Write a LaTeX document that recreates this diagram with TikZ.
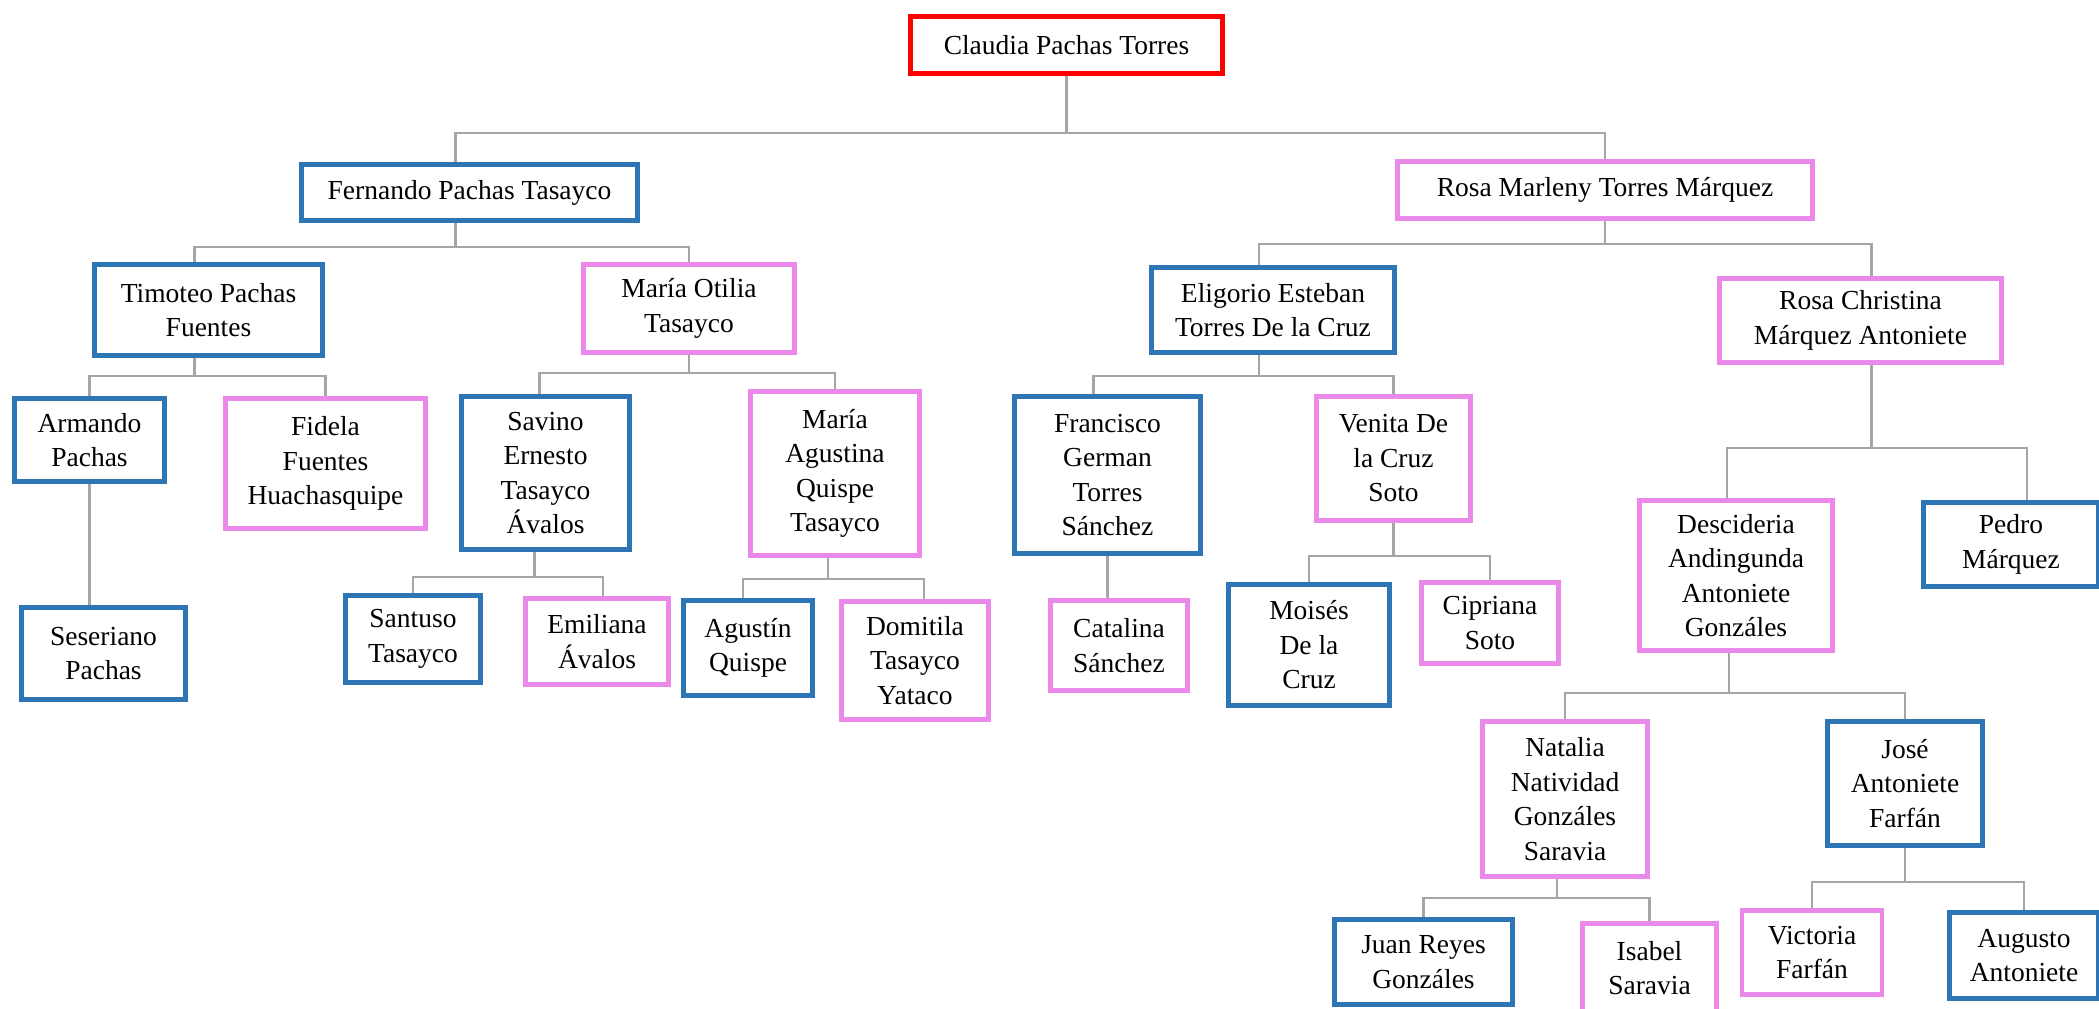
\documentclass[tikz,border=0pt]{standalone}
\usepackage{fontspec}
\setmainfont{Liberation Serif}
\usepackage{tikz}
\usetikzlibrary{backgrounds}
\definecolor{azul}{RGB}{46,117,182}
\definecolor{rosado}{RGB}{234,137,234}
\definecolor{gris}{RGB}{166,166,166}

\begin{document}
\begin{tikzpicture}[x=1pt,y=-1pt,
  caja/.style={draw,line width=4.6pt,inner sep=0pt,align=center,
    font=\fontsize{27.5}{34.5}\selectfont},
  raiz/.style={caja,draw=red},
  varon/.style={caja,draw=azul},
  mujer/.style={caja,draw=rosado},
  linea/.style={draw=gris,line width=2.4pt}]
  \useasboundingbox (0,0) rectangle (2099,1009);

  \node[raiz,minimum width=312,minimum height=57] (claudia) at (1066.5,45) {Claudia Pachas Torres};

  \node[varon,minimum width=336,minimum height=56] (fernando) at (469.5,192.5) {Fernando Pachas Tasayco};
  \node[mujer,minimum width=415,minimum height=57] (rosam) at (1605,190) {Rosa Marleny Torres Márquez};

  \node[varon,minimum width=228,minimum height=91] (timoteo) at (208.5,310) {Timoteo Pachas\\Fuentes};
  \node[mujer,minimum width=211,minimum height=88] (otilia) at (689,308.5) {María Otilia\\Tasayco};
  \node[varon,minimum width=243,minimum height=85] (eligorio) at (1273,310) {Eligorio Esteban\\Torres De la Cruz};
  \node[mujer,minimum width=282,minimum height=84] (rosac) at (1860.5,320.5) {Rosa Christina\\Márquez Antoniete};

  \node[varon,minimum width=150,minimum height=83] (armando) at (89.5,440) {Armando\\Pachas};
  \node[mujer,minimum width=200,minimum height=130] (fidela) at (325.5,463.5) {Fidela\\Fuentes\\Huachasquipe};
  \node[varon,minimum width=164,minimum height=92] (seseriano) at (103.5,653.5) {Seseriano\\Pachas};
  \node[varon,minimum width=168,minimum height=153] (savino) at (545.5,473) {Savino\\Ernesto\\Tasayco\\Ávalos};
  \node[mujer,minimum width=169,minimum height=164] (agustina) at (835,473.5) {María\\Agustina\\Quispe\\Tasayco};
  \node[varon,minimum width=135,minimum height=87] (santuso) at (413,639) {Santuso\\Tasayco};
  \node[mujer,minimum width=143,minimum height=86] (emiliana) at (597,641.5) {Emiliana\\Ávalos};
  \node[varon,minimum width=129,minimum height=95] (agustin) at (748,648) {Agustín\\Quispe};
  \node[mujer,minimum width=147,minimum height=118] (domitila) at (915,660.5) {Domitila\\Tasayco\\Yataco};

  \node[varon,minimum width=186,minimum height=157] (francisco) at (1107.5,475) {Francisco\\German\\Torres\\Sánchez};
  \node[mujer,minimum width=154,minimum height=124] (venita) at (1393.5,458.5) {Venita De\\la Cruz\\Soto};
  \node[mujer,minimum width=137,minimum height=90] (catalina) at (1119,645.5) {Catalina\\Sánchez};
  \node[varon,minimum width=161,minimum height=121] (moises) at (1309,645) {Moisés\\De la\\Cruz};
  \node[mujer,minimum width=137,minimum height=81] (cipriana) at (1490,623) {Cipriana\\Soto};

  \node[mujer,minimum width=193,minimum height=150] (desciderio) at (1736,575.5) {Descideria\\Andingunda\\Antoniete\\Gonzáles};
  \node[varon,minimum width=175,minimum height=84] (pedro) at (2011,544.5) {Pedro\\Márquez};
  \node[mujer,minimum width=165,minimum height=155] (natalia) at (1565,799) {Natalia\\Natividad\\Gonzáles\\Saravia};
  \node[varon,minimum width=155,minimum height=124] (jose) at (1905,783.5) {José\\Antoniete\\Farfán};
  \node[varon,minimum width=178,minimum height=85] (juan) at (1423.5,962) {Juan Reyes\\Gonzáles};
  \node[mujer,minimum width=134,minimum height=89] (isabel) at (1649.5,968) {Isabel\\Saravia};
  \node[mujer,minimum width=140,minimum height=84] (victoria) at (1812,952.5) {Victoria\\Farfán};
  \node[varon,minimum width=149,minimum height=86] (augusto) at (2024,955.5) {Augusto\\Antoniete};

  \begin{scope}[on background layer]
    \fill[white] (0,0) rectangle (2099,1009);
    \draw[linea] (claudia.south) -- ++(0,57) -| ([xshift=-14]fernando.north);
    \draw[linea] (claudia.south) ++(0,57) -| (rosam.north);
    \draw[linea] ([xshift=-14]fernando.south) -- ++(0,24) -| ([xshift=-14]timoteo.north);
    \draw[linea] ([xshift=-14]fernando.south) ++(0,24) -| (otilia.north);
    \draw[linea] (rosam.south) -- ++(0,23) -| ([xshift=-14]eligorio.north);
    \draw[linea] (rosam.south) ++(0,23) -| ([xshift=11]rosac.north);
    \draw[linea] ([xshift=-14]timoteo.south) -- ++(0,18) -| (armando.north);
    \draw[linea] ([xshift=-14]timoteo.south) ++(0,18) -| (fidela.north);
    \draw[linea] (armando.south) -- (armando.south |- seseriano.north);
    \draw[linea] (otilia.south) -- ++(0,18) -| ([xshift=-6]savino.north);
    \draw[linea] (otilia.south) ++(0,18) -| (agustina.north);
    \draw[linea] ([xshift=-11]savino.south) -- ++(0,25) -| (santuso.north);
    \draw[linea] ([xshift=-11]savino.south) ++(0,25) -| ([xshift=6]emiliana.north);
    \draw[linea] ([xshift=-7]agustina.south) -- ++(0,21) -| ([xshift=-5]agustin.north);
    \draw[linea] ([xshift=-7]agustina.south) ++(0,21) -| ([xshift=9]domitila.north);
    \draw[linea] ([xshift=-14]eligorio.south) -- ++(0,21) -| ([xshift=-14]francisco.north);
    \draw[linea] ([xshift=-14]eligorio.south) ++(0,21) -| (venita.north);
    \draw[linea] (francisco.south) -- (francisco.south |- catalina.north);
    \draw[linea] (venita.south) -- ++(0,33) -| (moises.north);
    \draw[linea] (venita.south) ++(0,33) -| (cipriana.north);
    \draw[linea] ([xshift=11]rosac.south) -- ++(0,83) -| ([xshift=-9]desciderio.north);
    \draw[linea] ([xshift=11]rosac.south) ++(0,83) -| ([xshift=16]pedro.north);
    \draw[linea] ([xshift=-7]desciderio.south) -- ++(0,40) -| (natalia.north);
    \draw[linea] ([xshift=-7]desciderio.south) ++(0,40) -| (jose.north);
    \draw[linea] ([xshift=-8]natalia.south) -- ++(0,19) -| (juan.north);
    \draw[linea] ([xshift=-8]natalia.south) ++(0,19) -| (isabel.north);
    \draw[linea] (jose.south) -- ++(0,34) -| (victoria.north);
    \draw[linea] (jose.south) ++(0,34) -| (augusto.north);
  \end{scope}
\end{tikzpicture}
\end{document}
